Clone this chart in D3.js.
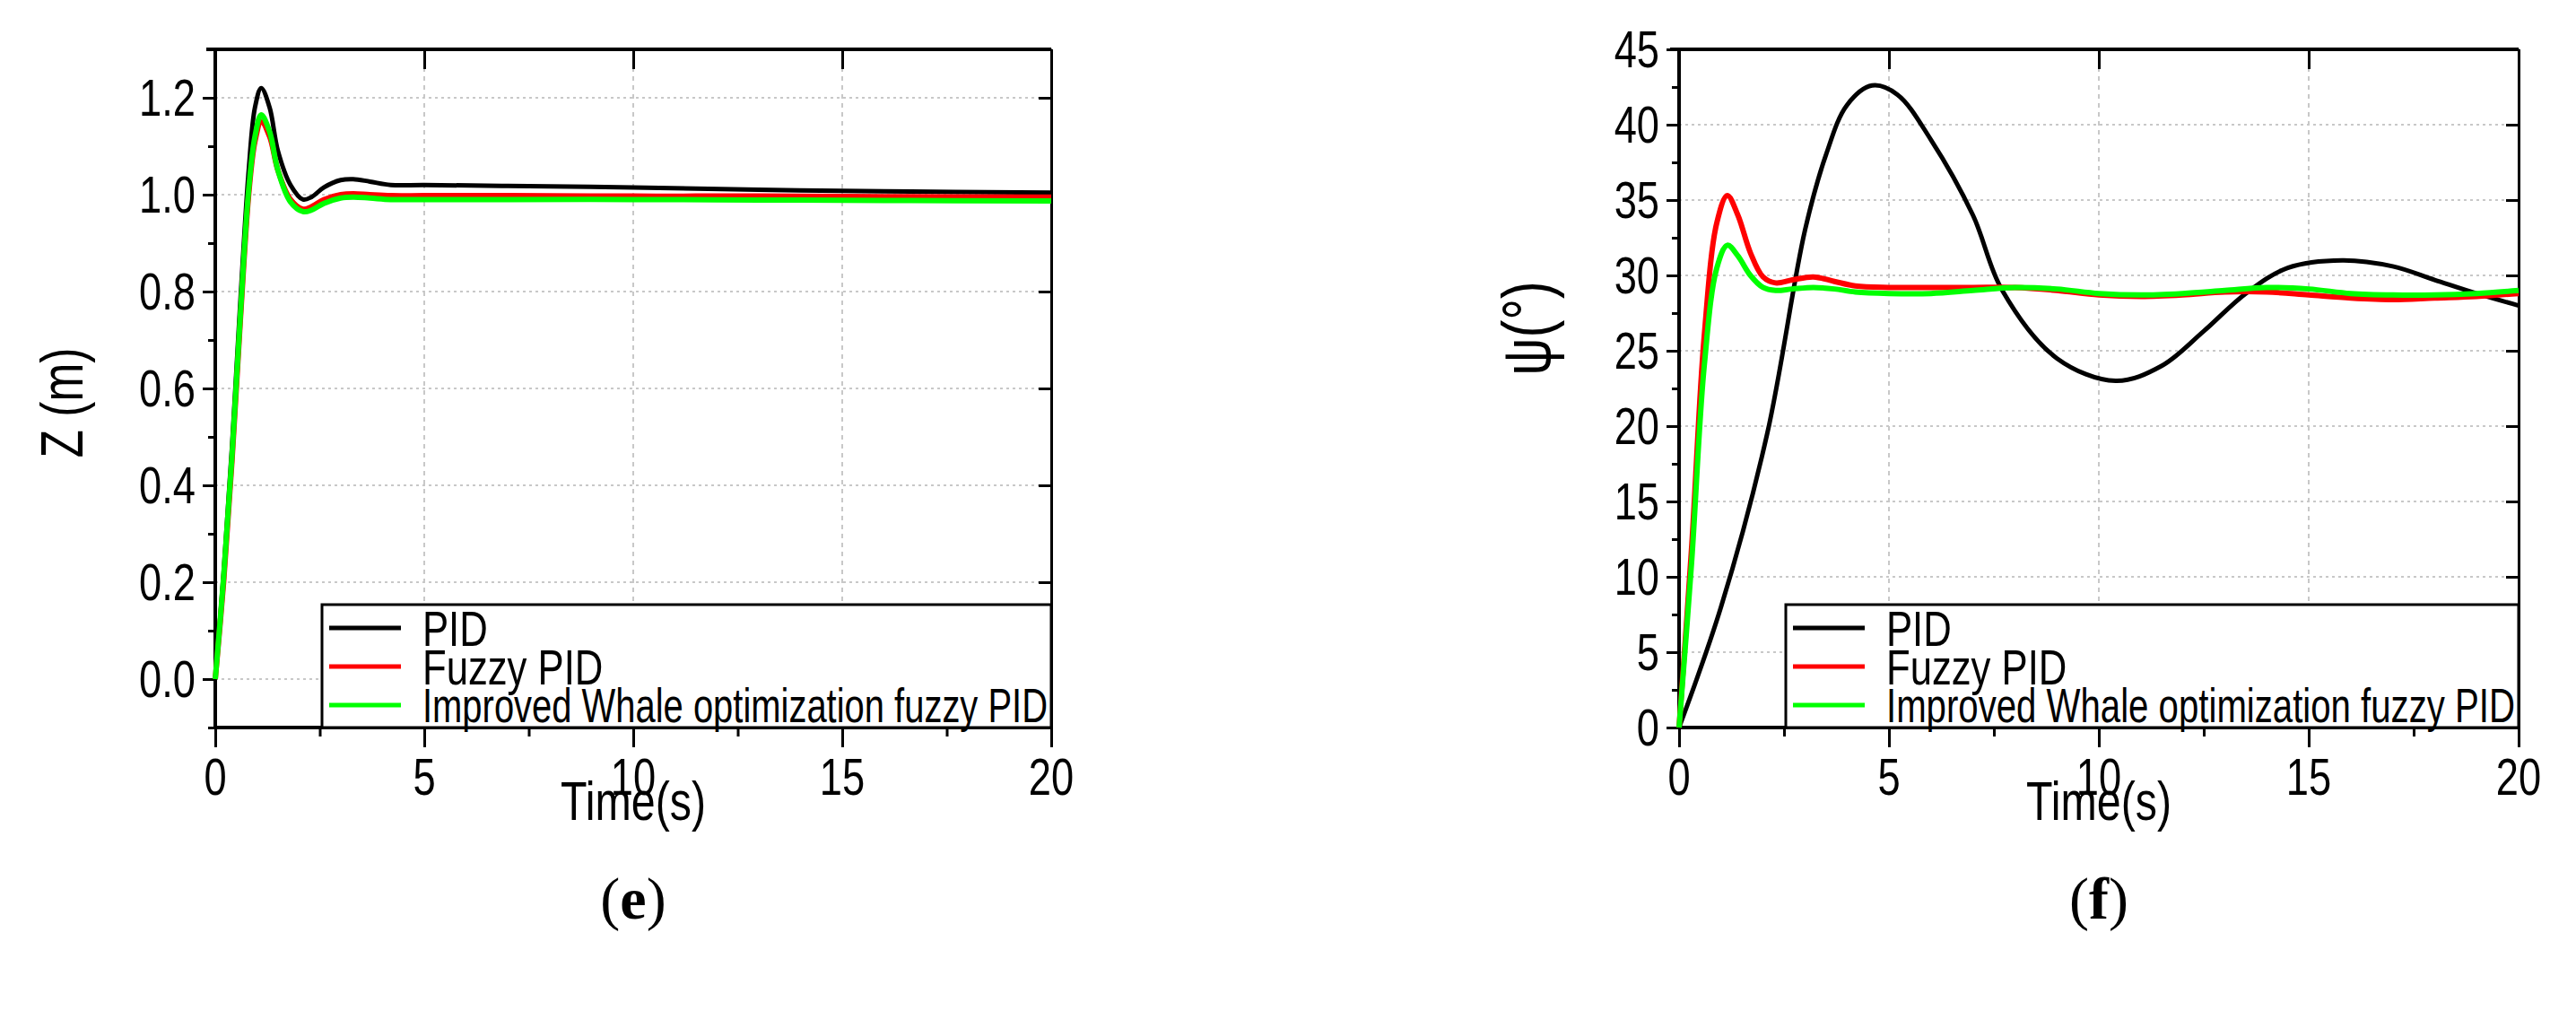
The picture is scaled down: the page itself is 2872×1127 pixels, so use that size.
<!DOCTYPE html>
<html>
<head>
<meta charset="utf-8">
<script src="https://cdn.jsdelivr.net/npm/d3@7"></script>
<style>
  body { margin: 0; background: #fff; }
  svg { display: block; }
  text { font-family: "Liberation Sans", Arial, sans-serif; }
</style>
</head>
<body>
<svg id="chart" width="2872" height="1127"></svg>
<script>
// Series for panel (e): height Z (m) vs time
const timeE = [0, 0.2, 0.4, 0.6, 0.8, 0.95, 1.1, 1.3, 1.5, 1.8, 2.1, 2.3, 2.6, 3.0, 3.3, 3.7, 4.2, 5, 7, 10, 13, 16, 20];
const zPid   = [0, 0.22, 0.48, 0.78, 1.05, 1.18, 1.22, 1.18, 1.09, 1.02, 0.99, 0.995, 1.015, 1.03, 1.032, 1.027, 1.02, 1.02, 1.018, 1.015, 1.01, 1.007, 1.004];
const zFuzzy = [0, 0.2, 0.45, 0.74, 1.0, 1.11, 1.15, 1.12, 1.05, 0.99, 0.97, 0.975, 0.99, 1.0, 1.002, 1.0, 0.998, 0.998, 0.998, 0.997, 0.997, 0.996, 0.995];
const zIwo   = [0, 0.21, 0.46, 0.75, 1.01, 1.12, 1.165, 1.13, 1.05, 0.985, 0.965, 0.968, 0.982, 0.993, 0.995, 0.993, 0.99, 0.99, 0.99, 0.99, 0.989, 0.988, 0.987];

// Series for panel (f): yaw psi (deg) vs time
const timeF = [0, 0.3, 0.6, 0.9, 1.15, 1.4, 1.7, 2.0, 2.3, 2.7, 3.2, 3.7, 4.2, 5, 6, 7, 8, 9, 10, 11, 12, 13, 14, 15, 16, 17, 18, 19, 20];
const psiFuzzy = [0, 12, 26, 33.5, 35.3, 34, 31.5, 29.9, 29.5, 29.7, 29.9, 29.6, 29.3, 29.2, 29.2, 29.2, 29.2, 29.0, 28.7, 28.6, 28.7, 28.9, 28.9, 28.7, 28.5, 28.4, 28.5, 28.6, 28.8];
const psiIwo   = [0, 11, 24, 30.5, 32, 31.3, 30, 29.2, 29.0, 29.1, 29.2, 29.1, 28.9, 28.8, 28.8, 29.0, 29.2, 29.1, 28.8, 28.7, 28.8, 29.0, 29.2, 29.1, 28.8, 28.7, 28.7, 28.8, 29.0];
const timePid = [0, 1, 2.1, 3, 3.5, 4, 4.6, 5.2, 6, 7, 7.7, 9, 10.4, 11.5, 12.5, 13.5, 14.5, 15.8, 17, 18, 19, 20];
const psiPid  = [0, 8, 19.5, 33, 38, 41.3, 42.6, 42, 39, 34, 29, 24.5, 23, 24, 26.3, 28.8, 30.5, 31, 30.6, 29.7, 28.8, 28];

const xTicks = [0, 5, 10, 15, 20];
const zTicks = [0.0, 0.2, 0.4, 0.6, 0.8, 1.0, 1.2];
const psiTicks = [0, 5, 10, 15, 20, 25, 30, 35, 40, 45];
const legendLabels = ["PID", "Fuzzy PID", "Improved Whale optimization fuzzy PID"];
const seriesColors = ["#000000", "#ff0000", "#00ff00"];

const SQ = 0.78; // horizontal squeeze to imitate a narrow face
const svg = d3.select('#chart');

// narrow text placed at (x, y)
function narrow(parent, x, y, txt, size, anchor) {
    return parent.append('text')
        .attr('transform', `translate(${x},${y}) scale(${SQ},1)`)
        .attr('text-anchor', anchor || 'start')
        .attr('font-size', size).text(txt);
}

function drawPanel(opt) {
    const x = d3.scaleLinear().domain([0, 20]).range([opt.left, opt.right]);
    const y = d3.scaleLinear().domain(opt.yDomain).range([opt.bottom, opt.top]);
    const g = svg.append('g');

    // dotted grid
    g.selectAll('line.gx').data(xTicks.slice(1, -1)).enter().append('line')
        .attr('x1', d => x(d)).attr('x2', d => x(d))
        .attr('y1', opt.top).attr('y2', opt.bottom)
        .attr('stroke', '#c8c8c8').attr('stroke-width', 2).attr('stroke-dasharray', '5,5');
    g.selectAll('line.gy').data(opt.yTicks).enter().append('line')
        .attr('x1', opt.left).attr('x2', opt.right)
        .attr('y1', d => y(d)).attr('y2', d => y(d))
        .attr('stroke', '#c8c8c8').attr('stroke-width', 2).attr('stroke-dasharray', '3,4');

    // axes: left/bottom ticks outward, top/right inward
    const minorX = d3.range(0, 20.01, 2.5);
    g.append('g').attr('transform', `translate(${opt.left},0)`).call(d3.axisLeft(y).tickValues(opt.yTicks).tickFormat('').tickSize(14).tickSizeOuter(0));
    g.append('g').attr('transform', `translate(0,${opt.bottom})`).call(d3.axisBottom(x).tickValues(xTicks).tickFormat('').tickSize(22).tickSizeOuter(0));
    g.append('g').attr('transform', `translate(${opt.left},0)`).call(d3.axisLeft(y).tickValues(opt.minorY).tickFormat('').tickSize(8).tickSizeOuter(0));
    g.append('g').attr('transform', `translate(0,${opt.bottom})`).call(d3.axisBottom(x).tickValues(minorX).tickFormat('').tickSize(10).tickSizeOuter(0));
    g.append('g').attr('transform', `translate(0,${opt.top})`).call(d3.axisBottom(x).tickValues(xTicks).tickFormat('').tickSize(22).tickSizeOuter(0));
    g.append('g').attr('transform', `translate(${opt.right},0)`).call(d3.axisLeft(y).tickValues(opt.yTicks).tickFormat('').tickSize(14).tickSizeOuter(0));
    g.selectAll('.domain, .tick line').attr('stroke', '#000').attr('stroke-width', 3);
    g.append('line').attr('x1', opt.left).attr('x2', opt.left).attr('y1', opt.top).attr('y2', opt.bottom).attr('stroke', '#000').attr('stroke-width', 4);
    g.append('line').attr('x1', opt.left).attr('x2', opt.right).attr('y1', opt.bottom).attr('y2', opt.bottom).attr('stroke', '#000').attr('stroke-width', 4);
    g.append('line').attr('x1', opt.left - 10).attr('x2', opt.right).attr('y1', opt.top).attr('y2', opt.top).attr('stroke', '#000').attr('stroke-width', 4);

    // tick labels
    opt.yTicks.forEach(v => narrow(g, opt.left - 22, y(v) + 20, opt.fmt(v), 58, 'end'));
    xTicks.forEach(v => narrow(g, x(v), 886, String(v), 58, 'middle'));

    // curves
    const line = d3.line().x(d => x(d[0])).y(d => y(d[1])).curve(d3.curveCatmullRom.alpha(0.5));
    opt.series.forEach((s, i) => {
        g.append('path').datum(d3.zip(s.t, s.v))
            .attr('d', line).attr('fill', 'none')
            .attr('stroke', seriesColors[i]).attr('stroke-width', i === 0 ? 5 : 6);
    });

    // legend
    const lg = g.append('g');
    lg.append('rect').attr('x', opt.legX).attr('y', opt.legY)
        .attr('width', opt.right - opt.legX).attr('height', opt.bottom - opt.legY)
        .attr('fill', '#fff').attr('stroke', '#000').attr('stroke-width', 3);
    legendLabels.forEach((lab, i) => {
        const cy = opt.legY + 26 + i * 43;
        lg.append('line').attr('x1', opt.legX + 8).attr('x2', opt.legX + 88)
            .attr('y1', cy).attr('y2', cy).attr('stroke', seriesColors[i]).attr('stroke-width', 5);
        if (i === 2) {
            lg.append('text').attr('x', opt.legX + 112).attr('y', cy + 19)
                .attr('font-size', 54)
                .attr('textLength', opt.right - opt.legX - 116)
                .attr('lengthAdjust', 'spacingAndGlyphs')
                .text(lab);
        } else {
            narrow(lg, opt.legX + 112, cy + 20, lab, 56, 'start');
        }
    });

    // titles
    narrow(svg, (opt.left + opt.right) / 2, 914, 'Time(s)', 62, 'middle');
    svg.append('text').attr('transform', `translate(${opt.yLabX},${opt.yLabY}) rotate(-90) scale(${SQ},1)`)
        .attr('text-anchor', 'middle').attr('font-size', opt.yLabSize).text(opt.yLabel);
    svg.append('text').attr('x', (opt.left + opt.right) / 2).attr('y', 1024)
        .attr('text-anchor', 'middle').attr('font-size', 66)
        .style('font-family', '"Liberation Serif", serif')
        .html(`(<tspan font-weight="bold">${opt.tag}</tspan>)`);
}

drawPanel({
    left: 240, right: 1172, top: 55, bottom: 811,
    yDomain: [-0.1, 1.3], yTicks: zTicks, minorY: d3.range(-0.1, 1.31, 0.1).map(v => +v.toFixed(1)),
    fmt: d3.format('.1f'),
    series: [{ t: timeE, v: zPid }, { t: timeE, v: zFuzzy }, { t: timeE, v: zIwo }],
    legX: 359, legY: 674, yLabX: 92, yLabY: 449, yLabSize: 66, yLabel: 'Z  (m)', tag: 'e'
});

drawPanel({
    left: 1872, right: 2808, top: 55, bottom: 811,
    yDomain: [0, 45], yTicks: psiTicks, minorY: d3.range(0, 45.1, 2.5),
    fmt: d3.format('d'),
    series: [{ t: timePid, v: psiPid }, { t: timeF, v: psiFuzzy }, { t: timeF, v: psiIwo }],
    legX: 1991, legY: 674, yLabX: 1728, yLabY: 366, yLabSize: 76, yLabel: 'ψ(°)', tag: 'f'
});
</script>
</body>
</html>
